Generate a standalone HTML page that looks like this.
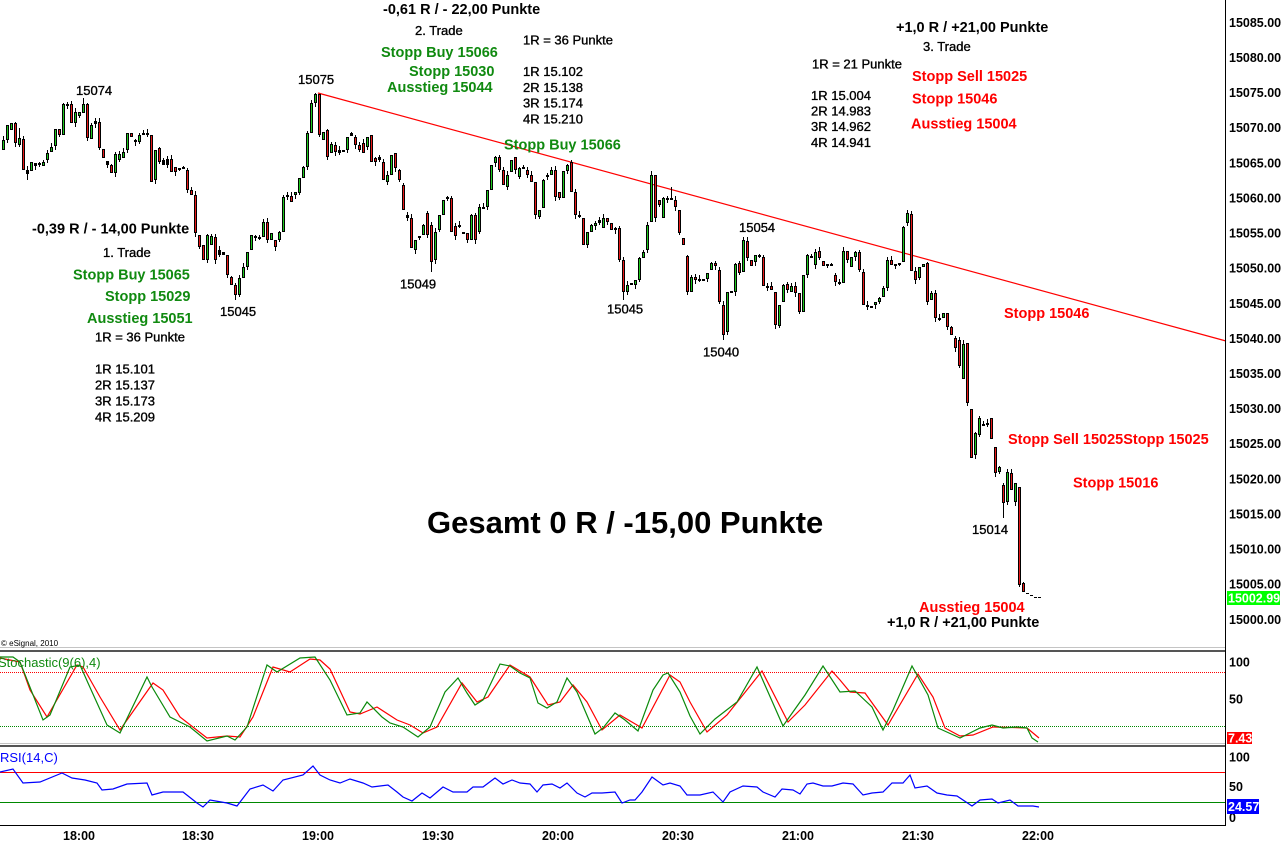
<!DOCTYPE html>
<html><head><meta charset="utf-8">
<style>
html,body{margin:0;padding:0;background:#fff;}
body{width:1283px;height:843px;overflow:hidden;}
svg{display:block;font-family:"Liberation Sans",Arial,sans-serif;}
.b{font-weight:bold;font-size:14.5px;}
.n{font-size:13px;fill:#000;stroke:#000;stroke-width:0.35px;}
.g{fill:#108a10;}
.r{fill:#f00;}
.ax{font-size:12.5px;font-weight:bold;fill:#000;}
.tm{font-size:12.5px;font-weight:bold;fill:#000;}
</style></head>
<body>
<svg width="1283" height="843" viewBox="0 0 1283 843" xmlns="http://www.w3.org/2000/svg">
<rect width="1283" height="843" fill="#fff"/>
<!-- trendline -->
<line x1="318" y1="93" x2="1226" y2="341" stroke="#f00" stroke-width="1.2"/>
<g id="c" shape-rendering="crispEdges"></g>

<!-- separators -->
<g shape-rendering="crispEdges">
<rect x="0" y="647" width="1226" height="1" fill="#c4c4c4"/>
<rect x="0" y="650" width="1226" height="2" fill="#555"/>
<rect x="0" y="743" width="1226" height="1" fill="#c4c4c4"/>
<rect x="0" y="745" width="1226" height="2" fill="#555"/>
<line x1="1225.5" y1="0" x2="1225.5" y2="826" stroke="#000" stroke-width="1"/>
<line x1="0" y1="825.5" x2="1226" y2="825.5" stroke="#000" stroke-width="1"/>
<line x1="0" y1="672.5" x2="1225" y2="672.5" stroke="#f00" stroke-width="1" stroke-dasharray="1 1"/>
<line x1="0" y1="726.5" x2="1225" y2="726.5" stroke="#080" stroke-width="1" stroke-dasharray="1 1"/>
<line x1="0" y1="772.5" x2="1225" y2="772.5" stroke="#f00" stroke-width="1.2"/>
<line x1="0" y1="802.5" x2="1225" y2="802.5" stroke="#080" stroke-width="1.2"/>
</g>

<!-- stochastic -->
<polyline fill="none" stroke="#f00" stroke-width="1.2" points="0,658 20,662 30,690 47,717 77,665 83,667 100,697 120,730 153,683 163,690 180,717 207,738 227,736 240,737 253,717 273,667 290,672 310,659 320,660 330,669 350,712 360,714 377,707 397,720 410,725 423,733 437,727 462,683 477,702 488,697 510,665 530,677 548,705 560,702 573,685 587,702 602,730 620,715 642,728 670,675 680,682 690,702 707,732 727,715 762,671 788,722 805,705 832,671 840,680 850,692 865,693 888,725 918,674 933,697 945,728 960,736 973,735 993,727 1027,728 1039,738"/>
<polyline fill="none" stroke="#0a8a0a" stroke-width="1.2" points="0,657 13,657 20,662 43,720 50,715 70,667 80,665 88,683 107,725 120,733 147,677 152,687 170,717 190,727 207,741 227,736 235,740 247,727 267,665 277,672 300,658 315,657 330,680 347,715 360,713 367,702 382,717 390,723 403,727 418,737 430,727 445,692 458,678 467,693 475,705 483,700 500,664 510,666 520,673 530,678 538,703 547,708 557,702 567,678 577,692 595,734 603,728 615,713 625,720 638,731 653,690 663,675 668,673 680,692 690,716 700,734 715,719 737,702 757,667 783,726 805,695 823,666 840,692 855,691 872,707 883,730 893,710 912,666 928,695 938,728 960,738 980,728 992,725 1003,728 1017,727 1027,728 1032,738 1038,742"/>
<!-- rsi -->
<polyline fill="none" stroke="#00f" stroke-width="1.2" points="0,772 13,769 23,783 40,782 62,773 72,778 85,780 97,783 102,790 113,789 127,784 147,783 152,795 163,792 183,792 197,803 203,807 210,800 227,803 237,806 250,789 263,785 273,791 283,780 303,775 313,766 320,775 330,780 340,783 350,779 363,783 372,787 380,786 388,785 397,792 403,797 412,801 422,793 430,798 443,787 453,792 467,792 473,787 483,787 495,778 503,784 512,780 520,783 530,784 537,792 543,785 552,784 560,788 567,783 577,793 585,797 592,793 602,793 615,792 622,803 630,800 635,800 642,792 652,777 663,785 670,783 680,786 687,795 700,795 713,792 723,802 730,792 743,786 757,787 763,792 775,797 782,789 793,790 800,794 807,784 813,783 823,786 832,786 843,783 853,784 863,795 872,793 883,792 892,783 903,783 910,775 915,788 927,786 937,793 947,795 957,796 972,806 980,800 992,799 998,803 1010,800 1018,806 1033,806 1039,807"/>

<!-- price axis labels -->
<g class="ax">
<text x="1229" y="27">15085.00</text>
<text x="1229" y="62">15080.00</text>
<text x="1229" y="97">15075.00</text>
<text x="1229" y="132">15070.00</text>
<text x="1229" y="167.5">15065.00</text>
<text x="1229" y="202.5">15060.00</text>
<text x="1229" y="237.5">15055.00</text>
<text x="1229" y="272.5">15050.00</text>
<text x="1229" y="308">15045.00</text>
<text x="1229" y="343">15040.00</text>
<text x="1229" y="378">15035.00</text>
<text x="1229" y="413">15030.00</text>
<text x="1229" y="448">15025.00</text>
<text x="1229" y="483.5">15020.00</text>
<text x="1229" y="518.5">15015.00</text>
<text x="1229" y="553.5">15010.00</text>
<text x="1229" y="588.5">15005.00</text>
<text x="1229" y="624">15000.00</text>
<text x="1229" y="666.5">100</text>
<text x="1229" y="703.5">50</text>
<text x="1229" y="761.5">100</text>
<text x="1229" y="791">50</text>
<text x="1229" y="822">0</text>
</g>
<rect x="1227" y="591" width="53" height="14" fill="#0f0"/>
<text x="1228" y="602.5" class="ax" style="fill:#fff">15002.99</text>
<rect x="1227" y="732" width="25" height="12" fill="#f00"/>
<text x="1228" y="742.5" class="ax" style="fill:#fff">7.43</text>
<rect x="1227" y="799" width="32" height="15" fill="#00f"/>
<text x="1228" y="811" class="ax" style="fill:#fff">24.57</text>

<!-- time labels -->
<g class="tm" text-anchor="middle">
<text x="79" y="840">18:00</text>
<text x="198" y="840">18:30</text>
<text x="318" y="840">19:00</text>
<text x="438" y="840">19:30</text>
<text x="558" y="840">20:00</text>
<text x="678" y="840">20:30</text>
<text x="798" y="840">21:00</text>
<text x="918" y="840">21:30</text>
<text x="1038" y="840">22:00</text>
</g>

<!-- annotations -->
<text x="383" y="14" class="b">-0,61 R / - 22,00 Punkte</text>
<text x="415" y="35" class="n">2. Trade</text>
<text x="523" y="44.5" class="n">1R = 36 Punkte</text>
<text x="381" y="57" class="b g">Stopp Buy 15066</text>
<text x="409" y="76" class="b g">Stopp 15030</text>
<text x="387" y="92" class="b g">Ausstieg 15044</text>
<text x="523" y="76" class="n">1R 15.102</text>
<text x="523" y="92" class="n">2R 15.138</text>
<text x="523" y="107.5" class="n">3R 15.174</text>
<text x="523" y="123.5" class="n">4R 15.210</text>
<text x="504" y="149.5" class="b g">Stopp Buy 15066</text>

<text x="76" y="95" class="n">15074</text>
<text x="298" y="84" class="n">15075</text>
<text x="32" y="233.5" class="b">-0,39 R / - 14,00 Punkte</text>
<text x="103" y="257" class="n">1. Trade</text>
<text x="73" y="279.5" class="b g">Stopp Buy 15065</text>
<text x="105" y="301" class="b g">Stopp 15029</text>
<text x="87" y="323" class="b g">Ausstieg 15051</text>
<text x="95" y="341.5" class="n">1R = 36 Punkte</text>
<text x="95" y="373.5" class="n">1R 15.101</text>
<text x="95" y="389.5" class="n">2R 15.137</text>
<text x="95" y="405.5" class="n">3R 15.173</text>
<text x="95" y="421.5" class="n">4R 15.209</text>
<text x="220" y="316" class="n">15045</text>
<text x="400" y="288.5" class="n">15049</text>
<text x="607" y="313.5" class="n">15045</text>
<text x="739" y="232" class="n">15054</text>
<text x="703" y="356.5" class="n">15040</text>
<text x="972" y="534" class="n">15014</text>

<text x="896" y="32" class="b">+1,0 R / +21,00 Punkte</text>
<text x="923" y="51" class="n">3. Trade</text>
<text x="812" y="68.5" class="n">1R = 21 Punkte</text>
<text x="912" y="81" class="b r">Stopp Sell 15025</text>
<text x="912" y="103.5" class="b r">Stopp 15046</text>
<text x="911" y="128.5" class="b r">Ausstieg 15004</text>
<text x="811" y="100" class="n">1R 15.004</text>
<text x="811" y="115.5" class="n">2R 14.983</text>
<text x="811" y="131" class="n">3R 14.962</text>
<text x="811" y="147" class="n">4R 14.941</text>

<text x="1004" y="318" class="b r">Stopp 15046</text>
<text x="1008" y="444" class="b r">Stopp Sell 15025Stopp 15025</text>
<text x="1073" y="487.5" class="b r">Stopp 15016</text>
<text x="427" y="533" style="font-size:31px;font-weight:bold;fill:#000">Gesamt 0 R / -15,00 Punkte</text>
<text x="919" y="612" class="b r">Ausstieg 15004</text>
<text x="887" y="627" class="b">+1,0 R / +21,00 Punkte</text>

<text x="1" y="646" style="font-size:8px;fill:#000">© eSignal, 2010</text>
<text x="-2" y="667" style="font-size:13px;fill:#108a10">Stochastic(9(6),4)</text>
<text x="0" y="762" style="font-size:13px;fill:#00f">RSI(14,C)</text>
</svg>
<script>
(function(){
var S="3,140,150,g;7,125,140,g;11,123,130,g;15,123,143,r;19,138,145,g;23,139,170,r;27,170,174,d;31,162,171,g;35,163,166,d;39,163,165,d;43,162,166,g;47,153,160,g;51,147,152,g;55,129,146,g;59,129,135,r;63,104,135,g;67,104,106,d;71,104,123,r;75,112,123,g;79,112,116,g;83,104,113,g;87,104,138,r;91,125,139,g;95,121,124,d;99,122,148,r;103,149,158,r;107,161,165,d;111,165,173,r;115,154,173,g;119,154,160,g;123,152,158,g;127,133,150,g;131,133,137,r;135,140,142,d;139,135,142,g;143,133,134,d;147,133,134,d;151,135,182,r;155,150,180,g;159,148,162,r;163,160,165,d;167,159,165,d;171,159,172,r;175,167,172,r;179,168,169,d;183,167,168,d;187,170,190,r;191,190,195,r;195,195,233,r;199,235,247,r;203,245,260,r;207,235,260,g;211,236,245,g;215,237,260,r;219,250,255,d;223,252,255,d;227,255,275,r;231,277,285,r;235,285,295,r;239,278,295,g;243,267,278,g;247,252,267,g;251,235,250,g;255,236,237,d;259,237,238,d;263,222,237,g;267,222,240,r;271,233,240,g;275,240,247,r;279,232,240,g;283,197,232,g;287,195,197,d;291,196,202,r;295,192,195,g;299,178,193,g;303,167,178,g;307,133,167,g;311,103,133,g;315,94,103,g;319,94,135,r;323,132,140,g;327,130,157,r;331,144,153,g;335,145,152,r;339,150,153,d;343,150,152,d;347,137,150,g;351,133,136,d;355,137,145,r;359,145,150,r;363,143,153,r;367,137,147,g;371,135,162,r;375,158,162,r;379,157,160,d;383,162,180,r;387,175,182,g;391,155,175,g;395,153,168,r;399,170,180,r;403,185,210,r;407,215,218,d;411,218,248,r;415,240,250,g;419,236,238,d;423,225,235,g;427,213,235,r;431,225,262,r;435,232,260,g;439,215,230,g;443,200,215,g;447,197,198,d;451,198,232,r;455,226,236,r;459,225,226,d;463,232,233,d;467,233,240,r;471,215,240,g;475,215,240,r;479,207,232,g;483,207,208,d;487,190,207,g;491,165,190,g;495,157,163,g;499,157,170,r;503,170,185,r;507,175,187,g;511,160,172,g;515,157,170,r;519,168,177,g;523,167,168,d;527,170,175,r;531,175,182,r;535,182,215,r;539,210,217,g;543,180,208,g;547,175,177,d;551,170,175,g;555,170,197,r;559,192,198,r;563,171,198,g;567,165,171,g;571,162,192,r;575,192,215,r;579,215,216,d;583,218,245,r;587,232,245,g;591,225,232,g;595,223,226,g;599,220,223,d;603,218,228,g;607,218,222,r;611,223,230,r;615,228,230,d;619,228,260,r;623,260,292,r;627,285,292,g;631,283,285,d;635,280,285,g;639,258,280,g;643,252,258,g;647,225,250,g;651,175,222,g;655,175,218,r;659,200,205,r;663,198,218,g;667,198,200,d;671,198,199,d;675,200,207,r;679,210,233,r;683,238,245,r;687,256,292,r;691,277,292,g;695,277,280,r;699,279,280,d;703,279,280,d;707,273,279,g;711,263,270,g;715,263,266,r;719,270,302,r;723,305,335,r;727,292,332,g;731,291,292,d;735,264,292,g;739,263,273,r;743,240,272,g;747,241,258,r;751,260,266,r;755,255,262,g;759,255,256,d;763,257,286,r;767,286,288,d;771,286,290,r;775,292,325,r;779,305,326,g;783,285,302,g;787,284,290,r;791,286,292,g;795,286,293,r;799,293,312,r;803,275,312,g;807,255,275,g;811,256,257,d;815,252,265,g;819,251,258,r;823,261,266,r;827,264,265,d;831,264,265,d;835,275,282,r;839,282,283,d;843,251,283,g;847,251,260,r;851,257,267,g;855,252,257,g;859,252,270,r;863,272,305,r;867,305,307,r;871,306,307,d;875,302,305,g;879,298,302,g;883,288,297,g;887,260,288,g;891,260,265,r;895,264,265,d;899,263,264,d;903,227,262,g;907,213,223,g;911,214,271,r;915,271,280,r;919,267,278,g;923,264,267,g;927,263,302,r;931,293,300,g;935,293,318,r;939,318,319,d;943,313,318,g;947,313,327,r;951,327,335,r;955,338,348,r;959,340,366,r;963,344,379,g;967,343,403,r;971,409,458,r;975,433,455,g;979,418,435,g;983,424,425,d;987,423,424,d;991,418,439,r;995,447,473,r;999,467,472,g;1003,485,503,r;1007,472,502,g;1011,473,490,r;1015,483,502,g;1019,487,585,r;1023,583,592,r;1027,593,594,e;1031,595,596,e;1035,597,598,e;1039,597,598,e";
var W={27:[null,180],83:[98,null],235:[null,300],315:[93,null],431:[null,272],623:[null,300],671:[187,null],723:[null,340],743:[237,null],907:[210,null],1003:[null,518],19:[128,null]};
var out='';
S.split(';').forEach(function(it,i){
 var p=it.split(','),x=+p[0]-1,t=+p[1],b=+p[2],c=p[3];
 if(c==='e'){out+='<rect x="'+x+'" y="'+t+'" width="3" height="1" fill="#000"/>';return;}
 var r1=(i*37+11)%6,r2=(i*53+5)%5;
 var hi=t-(r1<2?0:r1-1),lo=b+(r2<2?0:r2);
 var w=W[+p[0]];
 if(w){if(w[0]!=null)hi=w[0];if(w[1]!=null)lo=w[1];}
 if(lo>hi)out+='<rect x="'+(x+1)+'" y="'+hi+'" width="1" height="'+(lo-hi)+'" fill="#000"/>';
 var h=b-t;
 if(c==='d'||h<3){out+='<rect x="'+x+'" y="'+t+'" width="3" height="'+Math.max(2,h)+'" fill="#000"/>';}
 else{out+='<rect x="'+x+'" y="'+t+'" width="3" height="'+h+'" fill="#000"/><rect x="'+(x+1)+'" y="'+(t+1)+'" width="1" height="'+(h-2)+'" fill="'+(c==='g'?'#1ec81e':'#e81818')+'"/>';}
});
document.getElementById('c').innerHTML=out;
})();
</script>
</body></html>
